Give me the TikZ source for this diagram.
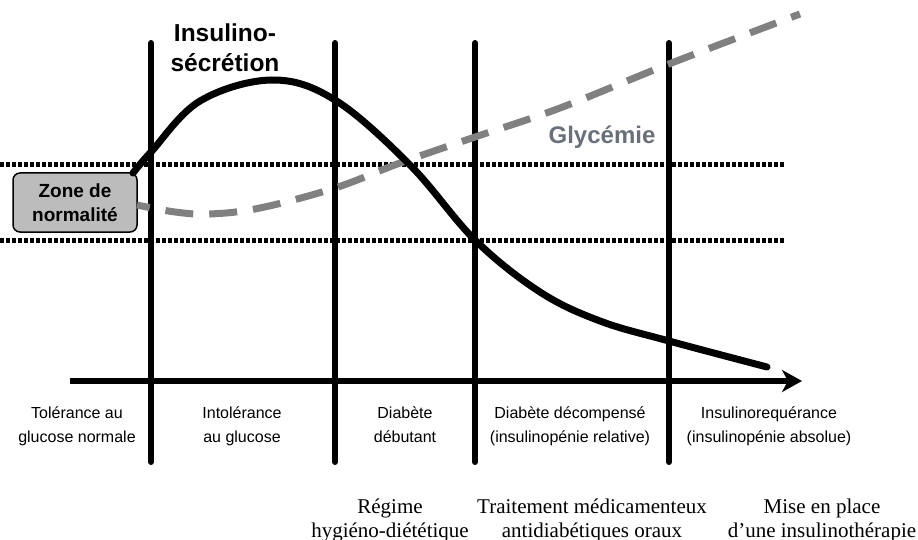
\documentclass[tikz,border=0pt]{standalone}
\usepackage{fontspec}
\setmainfont{Liberation Serif}
\setsansfont{Liberation Sans}
\usetikzlibrary{positioning,arrows.meta}
\definecolor{glycgray}{RGB}{128,128,128}
\definecolor{glyctext}{RGB}{105,112,122}
\definecolor{zonefill}{RGB}{188,188,188}

\begin{document}
\begin{tikzpicture}[
		x=1pt, y=-1pt,
		phase/.style={font=\sffamily\fontsize{16}{24}\selectfont, align=center, anchor=north, inner sep=0pt},
		treat/.style={font=\rmfamily\fontsize{21}{23.5}\selectfont, align=center, anchor=north, inner sep=0pt},
		sep/.style={line width=6pt, line cap=round},
		limit/.style={line width=5pt, dash pattern=on 4pt off 2pt}
	]
		\useasboundingbox (0,0) rectangle (918,540);

		% separations
		\foreach \x in {151,335,475,669}
			\draw[sep] (\x,43) -- (\x,462);
		% zone de normalite
		\draw[limit] (0,165) -- (785,165);
		\draw[limit] (0,240) -- (785,240);
		\node[draw=black,line width=1.5pt,fill=zonefill,rounded corners=7pt,minimum width=124pt,minimum height=59pt,align=center,font=\sffamily\bfseries\fontsize{19}{24}\selectfont] (zone) at (75,202.5) {Zone de\\normalité};
		% axe du temps
		\coordinate (t0) at (70,381);
		\coordinate (tend) at (802,381);
		\draw[line width=6pt,-{Stealth[length=20pt,width=22pt,inset=6pt]}] (t0) -- (tend);

		% courbes
		\draw[glycgray,line width=7pt,dash pattern=on 28pt off 16pt,dash phase=15pt] plot[smooth,tension=0.6] coordinates {(137,205) (175,212) (210,214) (260,208) (335,188) (400,163) (475,137) (560,108) (669,64) (800,14)};
		\draw[line width=7pt,line cap=round] plot[smooth,tension=0.6] coordinates {(133,173) (151,152) (200,101) (272,80) (335,100) (410,165) (475,240) (540,292) (600,321) (669,341) (767,367)};

		\node[font=\sffamily\bfseries\fontsize{24.5}{30}\selectfont,align=center] (insul) at (225,48) {Insulino-\\sécrétion};
		\node[font=\sffamily\bfseries\fontsize{24}{28}\selectfont,text=glyctext] (glyc) at (602,137) {Glycémie};

		\node[phase] (p1) at (77,407) {Tolérance au\\glucose normale};
		\node[phase] (p2) at (242,407) {Intolérance\\au glucose};
		\node[phase] (p3) at (405,407) {Diabète\\débutant};
		\node[phase] (p4) at (570,407) {Diabète décompensé\\(insulinopénie relative)};
		\node[phase] (p5) at (769,407) {Insulinorequérance\\(insulinopénie absolue)};

		\node[treat] (r1) at (390,499) {Régime\\hygiéno-diététique};
		\node[treat] (r2) at (592,499) {Traitement médicamenteux\\antidiabétiques oraux};
		\node[treat] (r3) at (822,499) {Mise en place\\d’une insulinothérapie};
	\end{tikzpicture}
\end{document}
